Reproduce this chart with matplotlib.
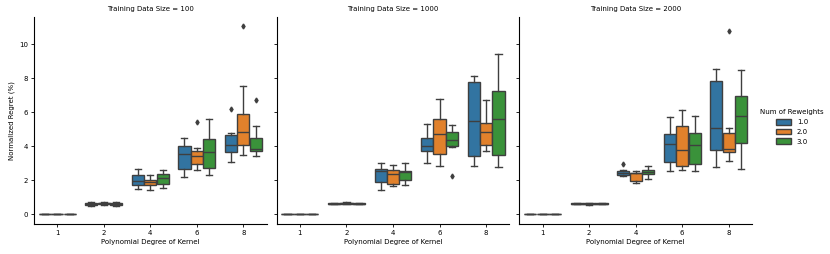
import numpy as np
import matplotlib.pyplot as plt
from matplotlib.patches import Patch

sizes = [100, 1000, 2000]
degrees = [1, 2, 4, 6, 8]
reweights = ['1.0', '2.0', '3.0']
colors = ['#3274a1', '#e1812c', '#3a923a']

# box statistics, indexed [data size][num of reweights][degree]
whislo = [
    [[0, 0.45, 1.48, 2.19, 3.07], [0, 0.55, 1.40, 2.58, 3.50], [0, 0.50, 1.54, 2.28, 3.40]],
    [[0, 0.58, 1.44, 3.01, 2.85], [0, 0.57, 1.64, 2.85, 3.74], [0, 0.58, 1.74, 3.93, 2.78]],
    [[0, 0.58, 2.26, 2.52, 2.76], [0, 0.56, 1.84, 2.58, 3.13], [0, 0.58, 2.09, 2.52, 2.66]],
]
q1 = [
    [[0, 0.53, 1.70, 2.68, 3.66], [0, 0.60, 1.74, 2.93, 4.07], [0, 0.56, 1.78, 2.72, 3.70]],
    [[0, 0.60, 1.89, 3.70, 3.40], [0, 0.59, 1.79, 3.54, 4.09], [0, 0.60, 2.01, 3.99, 3.50]],
    [[0, 0.61, 2.31, 3.05, 3.79], [0, 0.59, 1.93, 2.83, 3.64], [0, 0.61, 2.36, 2.95, 4.19]],
]
med = [
    [[0, 0.58, 1.97, 3.52, 4.05], [0, 0.63, 1.89, 3.40, 4.83], [0, 0.60, 2.10, 3.68, 3.83]],
    [[0, 0.62, 2.52, 3.99, 5.50], [0, 0.63, 2.38, 4.70, 4.81], [0, 0.62, 2.48, 4.38, 5.62]],
    [[0, 0.62, 2.44, 4.11, 5.05], [0, 0.61, 2.40, 3.77, 3.85], [0, 0.62, 2.48, 4.05, 5.78]],
]
q3 = [
    [[0, 0.65, 2.32, 3.99, 4.64], [0, 0.67, 2.03, 3.74, 5.89], [0, 0.66, 2.38, 4.44, 4.48]],
    [[0, 0.64, 2.66, 4.48, 7.78], [0, 0.66, 2.58, 5.60, 5.34], [0, 0.64, 2.52, 4.83, 7.26]],
    [[0, 0.64, 2.54, 4.72, 7.83], [0, 0.64, 2.42, 5.21, 4.79], [0, 0.64, 2.58, 4.78, 6.97]],
]
whishi = [
    [[0, 0.70, 2.68, 4.46, 4.79], [0, 0.72, 2.32, 3.89, 7.52], [0, 0.70, 2.58, 5.62, 5.20]],
    [[0, 0.67, 3.01, 5.30, 8.11], [0, 0.69, 2.89, 6.75, 6.74], [0, 0.67, 3.01, 5.23, 9.42]],
    [[0, 0.66, 2.60, 5.70, 8.52], [0, 0.66, 2.56, 6.15, 5.05], [0, 0.66, 2.85, 5.75, 8.46]],
]
# outliers: (data size index, reweight index, degree index, value)
outliers = [
    (0, 1, 3, 5.44), (0, 0, 4, 6.17), (0, 1, 4, 11.05), (0, 2, 4, 6.74),
    (1, 2, 3, 2.23),
    (2, 0, 2, 2.95), (2, 1, 4, 10.75),
]

edge = '#3f3f3f'
lw = 1.0
fs = 5

fig, axes = plt.subplots(1, 3, figsize=(8.3, 2.54), dpi=100, sharey=True)
fig.subplots_adjust(left=34 / 830, right=752 / 830, bottom=30 / 254, top=237 / 254, wspace=0.043)

box_w = 0.8 / 3
x = np.arange(len(degrees))

for p, ax in enumerate(axes):
    for h in range(3):
        stats = []
        for d in range(len(degrees)):
            fl = [o[3] for o in outliers if o[0] == p and o[1] == h and o[2] == d]
            stats.append(dict(whislo=whislo[p][h][d], q1=q1[p][h][d], med=med[p][h][d],
                              q3=q3[p][h][d], whishi=whishi[p][h][d], fliers=fl))
        pos = x - 0.8 / 2 + box_w * (h + 0.5)
        ax.bxp(stats, positions=pos, widths=box_w * 0.98, patch_artist=True,
               boxprops=dict(facecolor=colors[h], edgecolor=edge, linewidth=lw),
               medianprops=dict(color=edge, linewidth=lw),
               whiskerprops=dict(color=edge, linewidth=lw),
               capprops=dict(color=edge, linewidth=lw),
               flierprops=dict(marker='d', markerfacecolor=edge, markeredgecolor=edge,
                               markersize=2.5))
    ax.set_xlim(-0.5, len(degrees) - 0.5)
    ax.set_xticks(x)
    ax.set_xticklabels(degrees)
    ax.set_title(f'Training Data Size = {sizes[p]}', fontsize=fs, pad=4)
    ax.set_xlabel('Polynomial Degree of Kernel', fontsize=fs, labelpad=2)
    ax.tick_params(labelsize=fs, length=2.5, width=0.6, pad=2)
    for s in ['top', 'right']:
        ax.spines[s].set_visible(False)
    for s in ['left', 'bottom']:
        ax.spines[s].set_linewidth(0.8)

axes[0].set_ylim(-0.58, 11.6)
axes[0].set_yticks([0, 2, 4, 6, 8, 10])
axes[0].set_ylabel('Normalized Regret (%)', fontsize=fs, labelpad=3)

handles = [Patch(facecolor=c, edgecolor=edge, linewidth=lw) for c in colors]
fig.legend(handles, reweights, title='Num of Reweights', loc='center left',
           bbox_to_anchor=(754 / 830, 0.5), frameon=False, fontsize=fs,
           title_fontsize=fs, handlelength=2.2, handleheight=0.9, labelspacing=0.5)

fig.savefig('out.png', dpi=100)
